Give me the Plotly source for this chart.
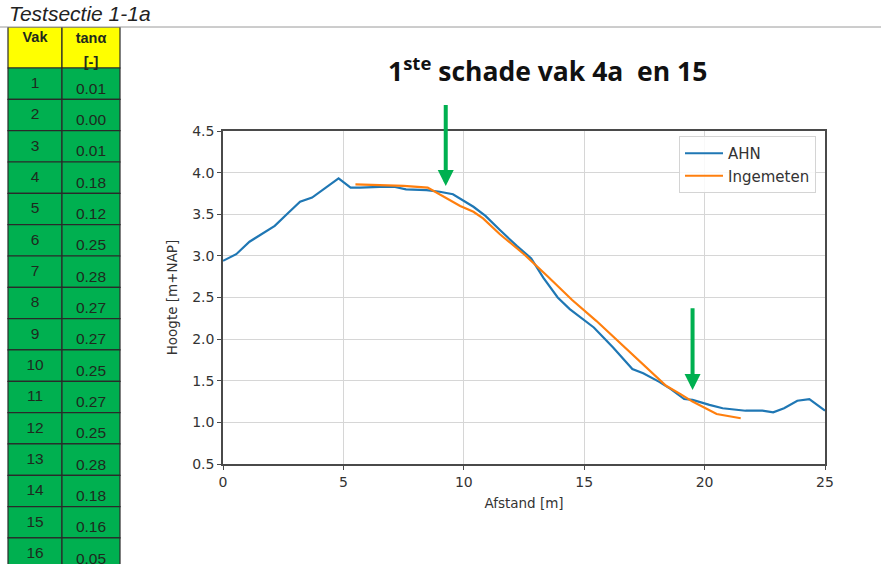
import plotly.graph_objects as go

# ---------------- data ----------------
ahn_x = [0, 0.55, 1.1, 1.55, 2.15, 2.65, 3.2, 3.7, 4.3, 4.8, 5.3, 5.7, 6.5, 7.1, 7.6, 8.45, 9.0, 9.55,
         10.4, 10.9, 11.5, 12.2, 12.8, 13.3, 13.9, 14.4, 15.4, 16.2, 17.0, 17.45, 18.1, 18.6, 19.15,
         19.5, 20.2, 20.75, 21.7, 22.4, 22.85, 23.3, 23.85, 24.35, 25.0]
ahn_y = [2.94, 3.02, 3.17, 3.25, 3.36, 3.50, 3.65, 3.70, 3.82, 3.93, 3.82, 3.82, 3.83, 3.83, 3.80, 3.79,
         3.77, 3.74, 3.59, 3.48, 3.31, 3.12, 2.97, 2.74, 2.50, 2.36, 2.14, 1.90, 1.64, 1.59, 1.49, 1.40,
         1.28, 1.27, 1.21, 1.17, 1.14, 1.14, 1.12, 1.17, 1.26, 1.28, 1.14]
ing_x = [5.5, 6.5, 7.5, 8.5, 9.0, 9.45, 9.85, 10.4, 10.8, 11.5, 12.5, 13.5, 14.5, 15.5, 16.5, 17.5,
         18.4, 19.0, 19.5, 20.5, 21.5]
ing_y = [3.86, 3.85, 3.84, 3.82, 3.74, 3.66, 3.60, 3.53, 3.45, 3.26, 3.02, 2.75, 2.47, 2.22, 1.95,
         1.69, 1.44, 1.34, 1.25, 1.10, 1.05]

vak = ["1", "2", "3", "4", "5", "6", "7", "8", "9", "10", "11", "12", "13", "14", "15", "16"]
tan_alpha = ["0.01", "0.00", "0.01", "0.18", "0.12", "0.25", "0.28", "0.27", "0.27", "0.25",
             "0.27", "0.25", "0.28", "0.18", "0.16", "0.05"]
table_headers = ["Vak", "tanα"]
header_unit = "[-]"

arrow_x = [9.25, 19.5]
arrow_tip_y = [3.84, 1.39]
arrow_tail_y = [4.83, 2.39]

x_ticks = [0, 5, 10, 15, 20, 25]
y_ticks = [0.5, 1.0, 1.5, 2.0, 2.5, 3.0, 3.5, 4.0, 4.5]

# ---------------- layout constants ----------------
W, H = 881, 564
PL, PR, PT, PB = 223, 825, 131, 464          # plot area in px
TL, TT = 7, 27                                # table left / top in px
col_w = [54, 58]
row_h = 31.33
head_h = 41.0
GREEN = "#00b050"
YELLOW = "#ffff00"
BORDER = "#2a2a2a"

fig = go.Figure()

fig.add_trace(go.Scatter(x=ahn_x, y=ahn_y, mode="lines", name="AHN",
                         line=dict(color="#1f77b4", width=2.2)))
fig.add_trace(go.Scatter(x=ing_x, y=ing_y, mode="lines", name="Ingemeten",
                         line=dict(color="#ff7f0e", width=2.2)))

# ---------------- table on its own axes ----------------
tw = sum(col_w)
head_u = head_h / row_h
span_u = (H - TT) / row_h
col_edges = [0, col_w[0], tw]
col_cent = [(col_edges[i] + col_edges[i + 1]) / 2 for i in range(2)]

shapes = []
for c in range(2):
    shapes.append(dict(type="rect", xref="x2", yref="y2", x0=col_edges[c], x1=col_edges[c + 1],
                       y0=-head_u, y1=0, fillcolor=YELLOW, line=dict(color=BORDER, width=1.2),
                       layer="below"))
for i in range(len(vak)):
    for c in range(2):
        shapes.append(dict(type="rect", xref="x2", yref="y2", x0=col_edges[c], x1=col_edges[c + 1],
                           y0=i, y1=i + 1, fillcolor=GREEN, line=dict(color=BORDER, width=1.2),
                           layer="below"))

tx, ty, tt = [], [], []
for i in range(len(vak)):
    tx += [col_cent[0], col_cent[1]]
    ty += [i + 0.52, i + 0.70]
    tt += [vak[i], tan_alpha[i]]
fig.add_trace(go.Scatter(x=tx, y=ty, text=tt, mode="text", xaxis="x2", yaxis="y2",
                         textfont=dict(family="Liberation Sans, Arial", size=15.5, color="#1e2a1e"),
                         showlegend=False, hoverinfo="skip", cliponaxis=True))
fig.add_trace(go.Scatter(x=[col_cent[0], col_cent[1], col_cent[1]],
                         y=[-head_u + 0.36, -head_u + 0.39, -head_u + 1.16],
                         text=["<b>%s</b>" % table_headers[0], "<b>%s</b>" % table_headers[1],
                               "<b>%s</b>" % header_unit],
                         mode="text", xaxis="x2", yaxis="y2",
                         textfont=dict(family="Liberation Sans, Arial", size=14.5, color="#1e2a1e"),
                         showlegend=False, hoverinfo="skip", cliponaxis=True))

shapes.append(dict(type="line", xref="paper", yref="paper", x0=0, x1=1,
                   y0=1 - TT / H, y1=1 - TT / H, line=dict(color="#9a9a9a", width=1)))

annotations = []
for ax_, tip, tail in zip(arrow_x, arrow_tip_y, arrow_tail_y):
    annotations.append(dict(x=ax_, y=tip, ax=ax_, ay=tail, xref="x", yref="y", axref="x", ayref="y",
                            text="", showarrow=True, arrowhead=2, arrowsize=0.8, arrowwidth=4,
                            arrowcolor="#00b050"))
annotations.append(dict(x=7 / W, y=1 - 14 / H, xref="paper", yref="paper", xanchor="left",
                        yanchor="middle", showarrow=False,
                        text="<i>Testsectie 1-1a</i>",
                        font=dict(family="Liberation Sans, Arial", size=21, color="#222")))
annotations.append(dict(x=547 / W, y=1 - 69 / H, xref="paper", yref="paper", xanchor="center",
                        yanchor="middle", showarrow=False,
                        text="<b>1<sup>ste</sup> schade vak 4a  en 15</b>",
                        font=dict(family="Open Sans, Lato", size=26.5, color="#111")))

axis_font = dict(family="DejaVu Sans", size=14, color="#333")
fig.update_layout(
    width=W, height=H, margin=dict(l=0, r=0, t=0, b=0),
    paper_bgcolor="white", plot_bgcolor="white",
    shapes=shapes, annotations=annotations,
    xaxis=dict(domain=[PL / W, PR / W], range=[0, 25], tickvals=x_ticks,
               showgrid=True, gridcolor="#d6d6d6", gridwidth=1, zeroline=False,
               showline=True, linecolor="#4a4a4a", linewidth=1.5, mirror=True,
               ticks="outside", ticklen=4, tickcolor="#4a4a4a", tickfont=axis_font,
               title=dict(text="Afstand [m]", font=dict(family="DejaVu Sans", size=13.5, color="#333"),
                          standoff=10), automargin=False),
    yaxis=dict(domain=[1 - PB / H, 1 - PT / H], range=[0.5, 4.5], tickvals=y_ticks,
               tickformat=".1f",
               showgrid=True, gridcolor="#d6d6d6", gridwidth=1, zeroline=False,
               showline=True, linecolor="#4a4a4a", linewidth=1.5, mirror=True,
               ticks="outside", ticklen=4, tickcolor="#4a4a4a", tickfont=axis_font,
               title=dict(text="Hoogte [m+NAP]", font=dict(family="DejaVu Sans", size=13.5, color="#333"),
                          standoff=11), automargin=False),
    xaxis2=dict(domain=[TL / W, (TL + tw + 2) / W], range=[-1, tw + 1], visible=False,
                fixedrange=True, anchor="y2"),
    yaxis2=dict(domain=[0, 1 - TT / H], range=[span_u - head_u, -head_u], visible=False,
                fixedrange=True, anchor="x2"),
    legend=dict(x=679 / W, y=1 - 136 / H, xanchor="left", yanchor="top",
                bgcolor="rgba(255,255,255,0.85)", bordercolor="#d4d4d4", borderwidth=1,
                itemwidth=38, tracegroupgap=0,
                font=dict(family="DejaVu Sans", size=15, color="#333")),
    showlegend=True,
)

fig.write_html("out.html")
